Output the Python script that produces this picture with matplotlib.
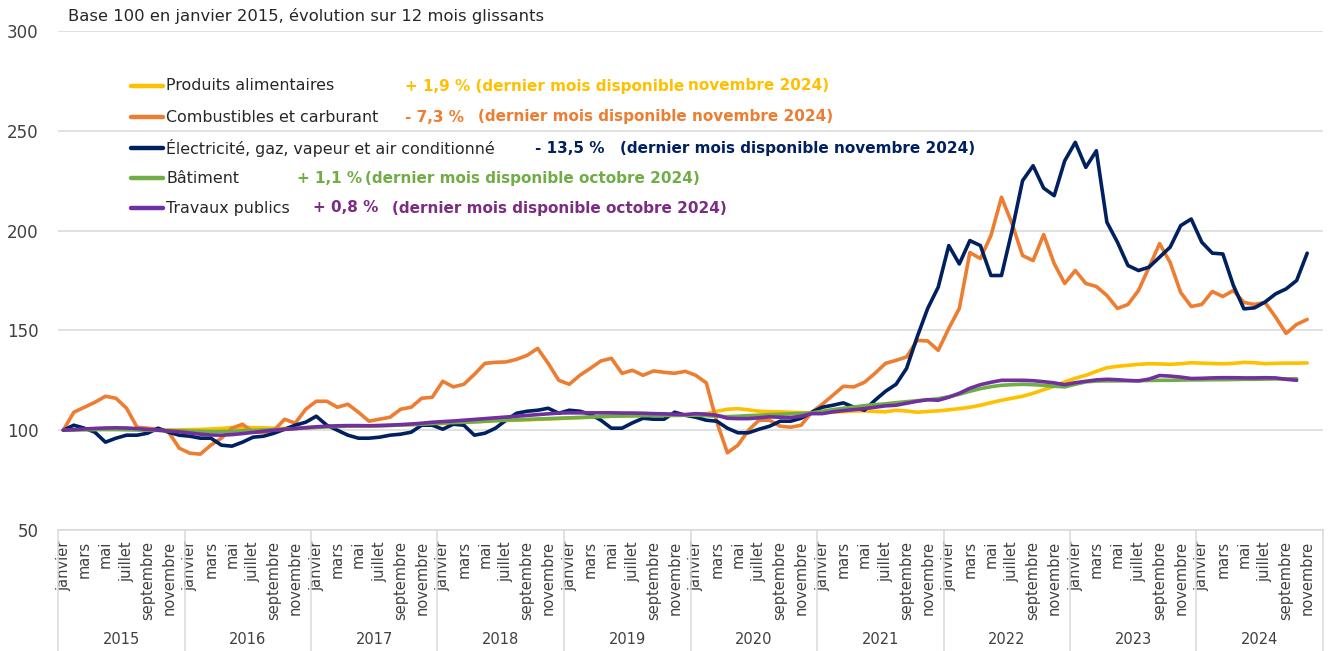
import matplotlib
matplotlib.use("Agg")
import matplotlib.pyplot as plt
from matplotlib.lines import Line2D
from matplotlib.transforms import blended_transform_factory

W, H = 1328, 651

C_ALIM = "#FFC000"
C_COMB = "#ED7D31"
C_ELEC = "#002060"
C_BAT = "#70AD47"
C_TP = "#7030A0"
C_TP_TXT = "#7B2C83"
GRID = "#D9D9D9"
TXT = "#404040"

YEARS = [str(y) for y in range(2015, 2025)]
MONTH_LABELS = ["janvier", "mars", "mai", "juillet", "septembre", "novembre"]

# indices, base 100 = janvier 2015 (jan 2015 -> nov 2024)
alimentaires = [
    100.0, 100.2, 100.4, 100.6, 100.7, 100.7, 100.6, 100.5, 100.3, 100.2, 100.1, 100.2,
    100.3, 100.4, 100.6, 100.9, 101.3, 101.4, 101.3, 101.2, 101.0, 100.9, 101.0, 101.2,
    101.5, 101.7, 101.9, 102.0, 102.1, 102.2, 102.3, 102.4, 102.6, 102.8, 103.0, 103.2,
    103.3, 103.5, 103.8, 104.1, 104.4, 104.7, 104.9, 105.0, 105.2, 105.4, 105.6, 105.8,
    106.0, 106.2, 106.5, 106.8, 107.0, 107.1, 107.2, 107.3, 107.4, 107.5, 107.6, 107.8,
    108.0, 108.3, 109.5, 110.5, 110.8, 110.2, 109.5, 109.3, 109.2, 109.0, 108.8, 108.7,
    108.8, 109.0, 109.3, 109.6, 109.7, 109.4, 109.2, 110.0, 109.6, 109.0, 109.4, 109.7,
    110.2, 110.8, 111.5, 112.5, 113.8, 115.0, 116.0, 117.0, 118.5, 120.3, 122.0, 124.2,
    126.0, 127.5, 129.5, 131.3, 132.0, 132.5, 133.0, 133.3, 133.2, 133.0, 133.3, 133.8,
    133.6, 133.4, 133.3, 133.5, 134.0, 133.8, 133.3, 133.5, 133.6, 133.6, 133.7,
]

combustibles = [
    100.0, 109.0, 111.5, 114.0, 117.0, 116.0, 111.0, 101.5, 101.0, 100.5, 99.0, 91.0,
    88.5, 88.0, 92.5, 96.0, 101.0, 103.0, 99.0, 99.0, 100.0, 105.5, 103.5, 110.5,
    114.5, 114.5, 111.5, 113.0, 109.0, 104.5, 105.5, 106.5, 110.5, 111.5, 116.0, 116.5,
    124.5, 121.7, 123.0, 128.0, 133.5, 134.0, 134.2, 135.5, 137.5, 141.0, 133.5, 125.0,
    123.0, 127.5, 131.0, 134.7, 136.0, 128.5, 130.0, 127.5, 129.7, 129.0, 128.5, 129.5,
    127.5, 123.7, 104.0, 88.7, 92.5, 100.0, 105.0, 105.0, 102.0, 101.5, 102.5, 109.0,
    113.0, 117.5, 122.0, 121.7, 124.0, 128.5, 133.5, 135.0, 136.7, 145.0, 144.7, 140.0,
    151.0, 161.0, 189.0, 186.0, 197.5, 216.7, 203.5, 187.5, 185.0, 198.0, 183.5, 173.5,
    180.0, 173.5, 172.0, 167.5, 161.0, 163.0, 170.0, 181.7, 193.5, 184.0, 169.0, 162.0,
    163.0, 169.5, 167.0, 170.0, 164.0, 163.0, 164.0, 156.7, 148.5, 153.0, 155.5,
]

electricite = [
    100.0, 102.5, 101.0, 99.0, 94.0, 96.0, 97.5, 97.5, 98.5, 101.0, 99.0, 97.5,
    97.0, 96.0, 96.0, 92.5, 92.0, 94.0, 96.5, 97.0, 98.5, 100.5, 102.5, 104.0,
    107.0, 102.5, 100.0, 97.5, 96.0, 96.0, 96.5, 97.5, 98.0, 99.0, 102.5, 102.5,
    100.5, 103.0, 102.5, 97.5, 98.5, 101.0, 105.0, 108.5, 109.5, 110.0, 111.0, 108.5,
    110.0, 109.5, 108.0, 105.0, 101.0, 101.0, 103.7, 106.0, 105.5, 105.5, 109.0, 107.5,
    106.5, 105.0, 104.5, 101.0, 98.7, 98.7, 100.5, 102.0, 104.5, 104.5, 106.0, 109.0,
    111.5, 112.5, 113.7, 111.5, 110.0, 115.0, 119.5, 123.0, 131.0, 146.7, 161.0, 171.7,
    192.5, 183.3, 195.0, 192.5, 177.5, 177.5, 200.0, 225.0, 232.5, 221.3, 217.5, 235.0,
    244.2, 231.7, 240.0, 204.2, 194.2, 182.5, 180.0, 181.7, 186.7, 191.7, 202.5, 205.8,
    194.2, 188.7, 188.3, 172.5, 160.8, 161.3, 164.2, 168.3, 170.8, 175.0, 188.7,
]

# jan 2015 -> oct 2024
batiment = [
    100.0, 100.1, 100.2, 100.3, 100.3, 100.3, 100.2, 100.1, 100.0, 99.9, 99.8, 99.7,
    99.6, 99.5, 99.4, 99.4, 99.5, 99.7, 99.9, 100.1, 100.3, 100.5, 100.8, 101.1,
    101.4, 101.7, 101.9, 102.0, 102.1, 102.2, 102.3, 102.4, 102.6, 102.8, 103.0, 103.3,
    103.6, 103.8, 104.0, 104.2, 104.5, 104.8, 105.0, 105.2, 105.4, 105.6, 105.8, 106.0,
    106.2, 106.4, 106.6, 106.8, 107.0, 107.1, 107.2, 107.3, 107.3, 107.4, 107.4, 107.5,
    107.5, 107.3, 107.0, 106.8, 107.0, 107.3, 107.5, 107.8, 108.0, 108.2, 108.4, 108.7,
    109.5, 110.3, 111.0, 111.6, 112.3, 112.8, 113.2, 113.8, 114.3, 114.8, 115.2, 115.8,
    116.8, 118.0, 119.5, 120.8, 121.8, 122.5, 122.8, 123.0, 122.8, 122.5, 122.0, 121.7,
    123.0, 124.2, 124.6, 124.7, 124.7, 124.8, 124.8, 124.9, 125.0, 125.0, 125.1, 125.2,
    125.2, 125.3, 125.3, 125.4, 125.5, 125.5, 125.6, 125.7, 125.7, 125.8,
]

travaux_publics = [
    100.0, 100.3, 100.6, 100.9, 101.1, 101.2, 101.1, 100.8, 100.4, 100.0, 99.6, 99.2,
    98.6, 98.0, 97.6, 97.5, 97.8, 98.3, 98.9, 99.5, 100.0, 100.4, 100.8, 101.3,
    101.7, 102.0, 102.2, 102.3, 102.3, 102.2, 102.3, 102.5, 102.8, 103.1, 103.5, 104.0,
    104.3, 104.6, 105.0, 105.4, 105.8, 106.2, 106.6, 107.0, 107.4, 107.8, 108.2, 108.6,
    108.7, 108.7, 108.7, 108.7, 108.7, 108.6, 108.6, 108.5, 108.3, 108.2, 108.0, 107.8,
    108.3, 108.0, 107.5, 106.0, 105.8, 105.8, 106.2, 106.7, 106.5, 106.3, 107.0, 108.3,
    108.3, 109.2, 109.8, 110.3, 110.8, 111.5, 112.2, 112.5, 113.5, 114.5, 115.3, 115.0,
    116.5, 118.5, 121.0, 122.8, 124.0, 125.0, 125.0, 125.0, 124.8, 124.3, 123.7, 122.8,
    123.8, 124.5, 125.2, 125.5, 125.3, 124.9, 124.7, 125.6, 127.4, 127.1, 126.6, 125.9,
    126.0, 126.2, 126.3, 126.3, 126.2, 126.2, 126.3, 126.2, 125.5, 125.0,
]

series = [
    ("Produits alimentaires", alimentaires, C_ALIM),
    ("Combustibles et carburant", combustibles, C_COMB),
    ("Électricité, gaz, vapeur et air conditionné", electricite, C_ELEC),
    ("Bâtiment", batiment, C_BAT),
    ("Travaux publics", travaux_publics, C_TP),
]

# (row y in px, [(x px, text, colour)])
annotations = [
    (86, [(405, "+ 1,9 % (dernier mois disponible", C_ALIM), (688, "novembre 2024)", C_ALIM)]),
    (117, [(405, "- 7,3 %", C_COMB), (478, "(dernier mois disponible novembre 2024)", C_COMB)]),
    (148, [(535, "- 13,5 %", C_ELEC), (620, "(dernier mois disponible novembre 2024)", C_ELEC)]),
    (178, [(297, "+ 1,1 %", C_BAT), (365, "(dernier mois disponible octobre 2024)", C_BAT)]),
    (208, [(313, "+ 0,8 %", C_TP_TXT), (392, "(dernier mois disponible octobre 2024)", C_TP_TXT)]),
]


def fx(x):
    return x / W


def fy(y):
    return 1 - y / H


fig = plt.figure(figsize=(W / 100, H / 100), dpi=100)
ax_left, ax_right, ax_top, ax_bot = 58, 1323, 31, 530
ax = fig.add_axes([fx(ax_left), fy(ax_bot), (ax_right - ax_left) / W, (ax_bot - ax_top) / H])

for name, vals, col in series:
    ax.plot(range(len(vals)), vals, color=col, lw=2.6, solid_joinstyle="round",
            solid_capstyle="round", zorder=3)

ax.set_xlim(-0.5, 119.5)
ax.set_ylim(50, 300)
ax.set_yticks([50, 100, 150, 200, 250, 300])
ax.yaxis.grid(True, color=GRID, lw=1.1)
ax.set_axisbelow(True)
for s in ["top", "right", "left"]:
    ax.spines[s].set_visible(False)
ax.spines["bottom"].set_color(GRID)
ax.spines["bottom"].set_linewidth(1.1)
ax.tick_params(axis="y", length=0, pad=14, labelsize=12, labelcolor=TXT)

ax.set_xticks(range(0, 120, 2))
ax.set_xticklabels(MONTH_LABELS * len(YEARS), rotation=90, fontsize=10.5, color=TXT)
ax.tick_params(axis="x", length=0, pad=8)

# year separators and labels under the month labels
trans = blended_transform_factory(ax.transData, ax.transAxes)
h_ax = ax_bot - ax_top
for k in range(len(YEARS) + 1):
    ax.plot([12 * k - 0.5] * 2, [0, -(H - ax_bot) / h_ax], color=GRID, lw=1.1,
            transform=trans, clip_on=False)
for k, yr in enumerate(YEARS):
    ax.text(12 * k + 5.5, -(640 - ax_bot) / h_ax, yr, transform=trans,
            ha="center", va="center", fontsize=10.5, color=TXT)

fig.text(fx(68), fy(16), "Base 100 en janvier 2015, évolution sur 12 mois glissants",
         ha="left", va="center", fontsize=11.8, color="#262626")

# hand-made legend with the last variations
rows = [86, 117, 148, 178, 208]
for (name, vals, col), y in zip(series, rows):
    fig.add_artist(Line2D([fx(131), fx(163)], [fy(y), fy(y)], color=col, lw=3.2,
                          solid_capstyle="round", transform=fig.transFigure))
    fig.text(fx(166), fy(y), name, ha="left", va="center", fontsize=11.4, color="#262626")

for y, parts in annotations:
    for x, txt, col in parts:
        fig.text(fx(x), fy(y), txt, ha="left", va="center", fontsize=11,
                 fontweight="bold", color=col)

fig.savefig("out.png", dpi=100)
